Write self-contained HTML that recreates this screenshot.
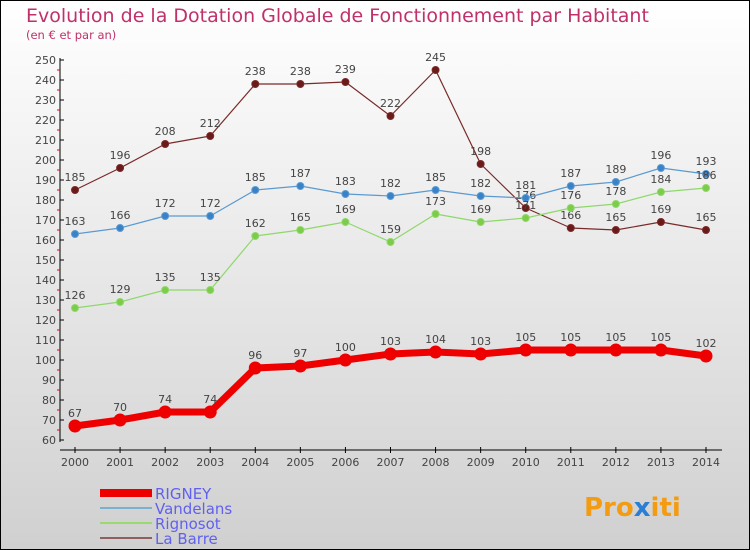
<!DOCTYPE html>
<html><head><meta charset="utf-8"><style>
body{margin:0;}
#c{width:750px;height:550px;position:relative;overflow:hidden;}
svg text{font-family:"DejaVu Sans","Liberation Sans",sans-serif;}
</style></head><body>
<div id="c">
<svg id="s" width="750" height="550" xmlns="http://www.w3.org/2000/svg">
<defs><linearGradient id="bg" x1="0" y1="0" x2="0" y2="1"><stop offset="0" stop-color="#ffffff"/><stop offset="1" stop-color="#d0d0d0"/></linearGradient></defs>
<rect x="0.5" y="0.5" width="749" height="549" fill="url(#bg)" stroke="#000"/>
<text x="26" y="22" font-size="19" fill="#c0306a">Evolution de la Dotation Globale de Fonctionnement par Habitant</text>
<text x="26" y="39" font-size="11.5" fill="#c0306a">(en € et par an)</text>
<g id="axes"></g>
<g id="series"></g>
<g id="legend"></g>
<text x="584" y="516" font-size="26" font-weight="bold" fill="#f39c12">Pro<tspan fill="#2a7fd4">x</tspan>iti</text>
</svg>
</div>
<script>
const years=[2000,2001,2002,2003,2004,2005,2006,2007,2008,2009,2010,2011,2012,2013,2014];
const rigney=[67,70,74,74,96,97,100,103,104,103,105,105,105,105,102];
const vandelans=[163,166,172,172,185,187,183,182,185,182,181,187,189,196,193];
const rignosot=[126,129,135,135,162,165,169,159,173,169,171,176,178,184,186];
const labarre=[185,196,208,212,238,238,239,222,245,198,176,166,165,169,165];
const yTicks=[60,70,80,90,100,110,120,130,140,150,160,170,180,190,200,210,220,230,240,250];
const NS="http://www.w3.org/2000/svg";
function xs(i){return 75+i*(706-75)/(years.length-1);}
function ys(v){return 440-(v-60)*2;}
function mk(t,a,p){const e=document.createElementNS(NS,t);for(const k in a)e.setAttribute(k,a[k]);p.appendChild(e);return e;}
const ax=document.getElementById('axes');
let l=mk('line',{x1:60,y1:58,x2:60,y2:442,stroke:'#000'},ax);


l=mk('line',{x1:60,y1:450,x2:722,y2:450,stroke:'#000'},ax);


yTicks.forEach(v=>{
 mk('line',{x1:60,y1:ys(v),x2:64,y2:ys(v),stroke:'#000'},ax);
 if(v<250) mk('line',{x1:57,y1:ys(v+5),x2:60,y2:ys(v+5),stroke:'#e00'},ax);
 const t=mk('text',{x:56,y:ys(v)+4,'font-size':11,'text-anchor':'end',fill:'#444'},ax);t.textContent=v;
 
 
});
years.forEach((y,i)=>{
 mk('line',{x1:xs(i),y1:447,x2:xs(i),y2:453,stroke:'#000'},ax);
 const t=mk('text',{x:xs(i),y:466,'font-size':11,'text-anchor':'middle',fill:'#444'},ax);t.textContent=y;
 
 
});
const sg=document.getElementById('series');
function draw(name,data,color,lw,r,dot){
 const g=mk('g',{},sg);
 
 
 const pts=data.map((v,i)=>xs(i)+','+ys(v)).join(' ');
 mk('polyline',{points:pts,fill:'none',stroke:color,'stroke-width':lw,'stroke-linejoin':'round'},g);
 data.forEach((v,i)=>{
  const c=mk('circle',{cx:xs(i),cy:ys(v),r:r,fill:dot,stroke:color,'stroke-width':1},g);
  
  
  const t=mk('text',{x:xs(i),y:ys(v)-9,'font-size':11,'text-anchor':'middle',fill:'#444'},g);t.textContent=v;
  
  
 });
}
draw('la-barre',labarre,'#7a2a2a',1.2,3.5,'#6b1a1a');
draw('vandelans',vandelans,'#5a9ad0',1.2,3.5,'#3a82c8');
draw('rignosot',rignosot,'#8ed86a',1.2,3.5,'#7ccc4a');
draw('rigney',rigney,'#ee0000',7,6,'#ee0000');
const lg=document.getElementById('legend');
const leg=[['RIGNEY','#ee0000',8],['Vandelans','#7ab0d0',2],['Rignosot','#9ad870',2],['La Barre','#906060',2]];
leg.forEach((e,i)=>{
 const y=493+i*15;
 const g=mk('g',{},lg);
 
 
 mk('line',{x1:100,y1:y,x2:152,y2:y,stroke:e[1],'stroke-width':e[2]},g);
 const t=mk('text',{x:155,y:y+6,'font-size':15,fill:'#6060f0'},g);t.textContent=e[0];
});
</script>
</body></html>
